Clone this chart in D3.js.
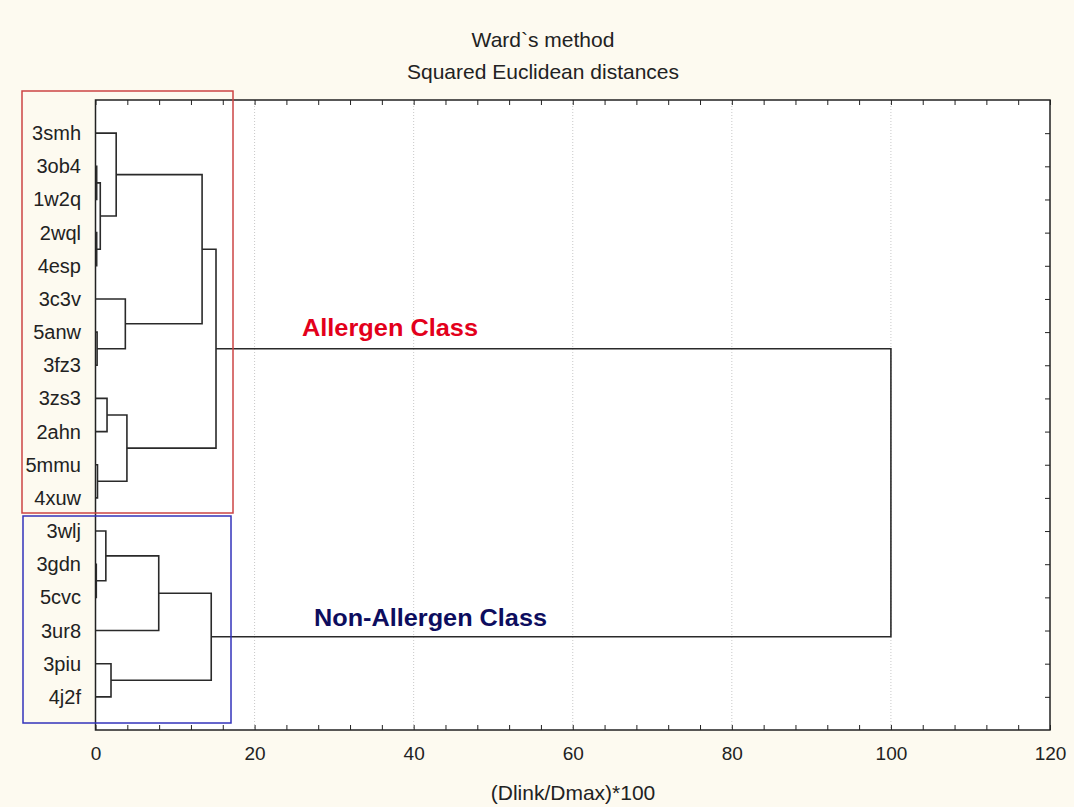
<!DOCTYPE html>
<html>
<head>
<meta charset="utf-8">
<title>Ward`s method</title>
<script src="https://cdn.jsdelivr.net/npm/d3@7"></script>
<style>
  body { margin: 0; background: #fdfaf0; }
  text { font-family: "Liberation Sans", Arial, sans-serif; }
</style>
</head>
<body>
<script>
// leaves, top to bottom
var leaves = ["3smh","3ob4","1w2q","2wql","4esp","3c3v","5anw","3fz3","3zs3","2ahn","5mmu","4xuw",
              "3wlj","3gdn","5cvc","3ur8","3piu","4j2f"];

// merges: [left, right, height]; "cN" = result of merge N
var merges = [
  ["3ob4","1w2q",0.15],  // c0
  ["2wql","4esp",0.15],  // c1
  ["c0","c1",0.6],       // c2
  ["3smh","c2",2.6],     // c3
  ["5anw","3fz3",0.2],   // c4
  ["3c3v","c4",3.75],    // c5
  ["c3","c5",13.4],      // c6
  ["3zs3","2ahn",1.45],  // c7
  ["5mmu","4xuw",0.25],  // c8
  ["c7","c8",3.95],      // c9
  ["c6","c9",15.15],     // c10
  ["3gdn","5cvc",0.1],   // c11
  ["3wlj","c11",1.3],    // c12
  ["c12","3ur8",7.95],   // c13
  ["3piu","4j2f",1.95],  // c14
  ["c13","c14",14.55],   // c15
  ["c10","c15",100]      // c16
];

var xTicks = [0,20,40,60,80,100,120];
var titles = ["Ward`s method","Squared Euclidean distances"];
var xTitle = "(Dlink/Dmax)*100";

var W = 1074, H = 807;
var m = {left:95.5, right:1050, top:100, bottom:730};

var svg = d3.select("body").append("svg")
  .attr("width",W).attr("height",H);

var x = d3.scaleLinear().domain([0,120]).range([m.left,m.right]);
var y = d3.scalePoint().domain(leaves).range([m.top,m.bottom]).padding(1);

// plot background
svg.append("rect")
  .attr("x",m.left).attr("y",m.top)
  .attr("width",m.right-m.left).attr("height",m.bottom-m.top)
  .attr("fill","#fff");

// dotted grid
svg.append("g").selectAll("line")
  .data(xTicks.filter(function(d){ return d>0 && d<120; }))
  .enter().append("line")
  .attr("x1",function(d){ return x(d); }).attr("x2",function(d){ return x(d); })
  .attr("y1",m.top).attr("y2",m.bottom)
  .attr("stroke","#c8c8c8").attr("stroke-dasharray","1,2");

// axes (ticks every 4 units, pointing inward)
var minor = d3.range(0,121,4);
svg.append("g")
  .attr("transform","translate(0,"+m.bottom+")")
  .call(d3.axisBottom(x).tickValues(minor).tickSize(-5).tickPadding(17)
    .tickFormat(function(d){ return d%20===0 ? d : ""; }))
  .call(function(g){
    g.select(".domain").remove();
    g.selectAll("line").attr("stroke","#222");
    g.selectAll("text").attr("font-size",19).attr("fill","#222");
  });
svg.append("g")
  .attr("transform","translate(0,"+m.top+")")
  .call(d3.axisTop(x).tickValues(minor).tickSize(-5).tickFormat(""))
  .call(function(g){
    g.select(".domain").remove();
    g.selectAll("line").attr("stroke","#222");
  });
svg.append("g")
  .attr("transform","translate("+m.right+",0)")
  .call(d3.axisRight(y).tickSize(-5).tickFormat(""))
  .call(function(g){
    g.select(".domain").remove();
    g.selectAll("line").attr("stroke","#222");
  });

svg.append("rect")
  .attr("x",m.left).attr("y",m.top)
  .attr("width",m.right-m.left).attr("height",m.bottom-m.top)
  .attr("fill","none").attr("stroke","#222").attr("stroke-width",1.5);

// leaf labels
svg.append("g").selectAll("text")
  .data(leaves).enter().append("text")
  .attr("x",81).attr("y",function(d){ return y(d); })
  .attr("dy","0.35em").attr("text-anchor","end")
  .attr("font-size",20).attr("fill","#222")
  .text(function(d){ return d; });

// dendrogram links
var nodes = {};
leaves.forEach(function(l){ nodes[l] = {y:y(l), h:0}; });
var links = svg.append("g").attr("fill","none").attr("stroke","#2a2a2a").attr("stroke-width",1.6);
merges.forEach(function(mg,i){
  var a = nodes[mg[0]], b = nodes[mg[1]], h = mg[2];
  links.append("path")
    .attr("d","M"+x(a.h)+","+a.y+"H"+x(h)+"V"+b.y+"H"+x(b.h));
  nodes["c"+i] = {y:(a.y+b.y)/2, h:h};
});

// class boxes
svg.append("rect").attr("x",22).attr("y",91).attr("width",211).attr("height",422)
  .attr("fill","none").attr("stroke","#cc4444").attr("stroke-width",1.5);
svg.append("rect").attr("x",23).attr("y",516).attr("width",208).attr("height",207)
  .attr("fill","none").attr("stroke","#3333bb").attr("stroke-width",1.5);

svg.append("text").attr("x",302).attr("y",336)
  .attr("font-size",24).attr("font-weight","bold").attr("fill","#e3001b")
  .attr("textLength",176).attr("lengthAdjust","spacingAndGlyphs")
  .text("Allergen Class");
svg.append("text").attr("x",314).attr("y",626)
  .attr("font-size",24).attr("font-weight","bold").attr("fill","#0d0d5e")
  .attr("textLength",233).attr("lengthAdjust","spacingAndGlyphs")
  .text("Non-Allergen Class");

// titles
svg.selectAll(".title").data(titles).enter().append("text")
  .attr("class","title")
  .attr("x",543).attr("y",function(d,i){ return 40+i*32; })
  .attr("dy","0.35em").attr("text-anchor","middle")
  .attr("font-size",21).attr("fill","#222")
  .text(function(d){ return d; });

svg.append("text")
  .attr("x",573).attr("y",793).attr("dy","0.35em").attr("text-anchor","middle")
  .attr("font-size",21).attr("fill","#222")
  .text(xTitle);
</script>
</body>
</html>
